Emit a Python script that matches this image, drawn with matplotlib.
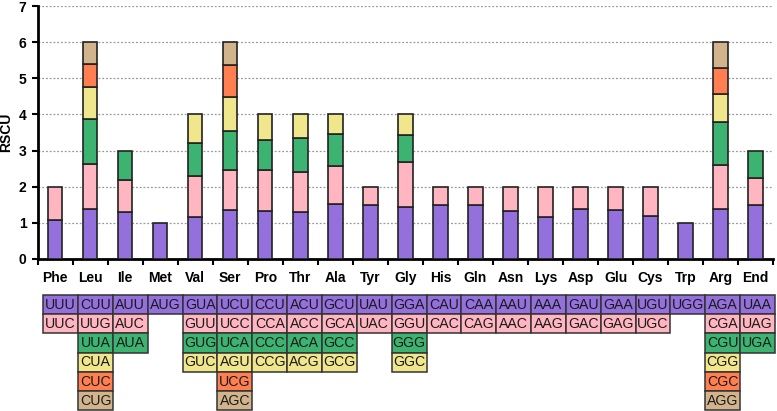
import matplotlib
matplotlib.use("Agg")
import matplotlib.pyplot as plt
from matplotlib.patches import Rectangle
from matplotlib.ticker import FixedLocator, MultipleLocator

amino_acids = ["Phe", "Leu", "Ile", "Met", "Val", "Ser", "Pro", "Thr", "Ala", "Tyr", "Gly",
               "His", "Gln", "Asn", "Lys", "Asp", "Glu", "Cys", "Trp", "Arg", "End"]

codons = [
    ["UUU", "UUC"],
    ["CUU", "UUG", "UUA", "CUA", "CUC", "CUG"],
    ["AUU", "AUC", "AUA"],
    ["AUG"],
    ["GUA", "GUU", "GUG", "GUC"],
    ["UCU", "UCC", "UCA", "AGU", "UCG", "AGC"],
    ["CCU", "CCA", "CCC", "CCG"],
    ["ACU", "ACC", "ACA", "ACG"],
    ["GCU", "GCA", "GCC", "GCG"],
    ["UAU", "UAC"],
    ["GGA", "GGU", "GGG", "GGC"],
    ["CAU", "CAC"],
    ["CAA", "CAG"],
    ["AAU", "AAC"],
    ["AAA", "AAG"],
    ["GAU", "GAC"],
    ["GAA", "GAG"],
    ["UGU", "UGC"],
    ["UGG"],
    ["AGA", "CGA", "CGU", "CGG", "CGC", "AGG"],
    ["UAA", "UAG", "UGA"],
]

rscu = [
    [1.08, 0.92],
    [1.37, 1.26, 1.25, 0.88, 0.65, 0.59],
    [1.31, 0.88, 0.81],
    [1.00],
    [1.15, 1.15, 0.91, 0.79],
    [1.35, 1.11, 1.08, 0.95, 0.87, 0.64],
    [1.33, 1.13, 0.82, 0.72],
    [1.31, 1.11, 0.94, 0.64],
    [1.52, 1.05, 0.88, 0.55],
    [1.50, 0.50],
    [1.45, 1.23, 0.74, 0.58],
    [1.49, 0.51],
    [1.49, 0.51],
    [1.33, 0.67],
    [1.15, 0.85],
    [1.38, 0.62],
    [1.35, 0.65],
    [1.19, 0.81],
    [1.00],
    [1.37, 1.22, 1.19, 0.80, 0.72, 0.70],
    [1.49, 0.76, 0.75],
]

colors = ["#9370DB", "#FFB6C1", "#3CB371", "#F0E68C", "#FF7F50", "#D2B48C"]

fig = plt.figure(figsize=(7.77, 4.11), dpi=100)
ax = fig.add_axes([0.0485, 0.370, 0.9465, 0.615])

n = len(amino_acids)
for i in range(n):
    bottom = 0.0
    for j, v in enumerate(rscu[i]):
        ax.bar(i, v, bottom=bottom, width=0.41, color=colors[j],
               edgecolor="#222222", linewidth=1.2, zorder=3)
        bottom += v

ax.set_xlim(-0.5, n - 0.5)
ax.set_ylim(0, 7)
ax.yaxis.set_major_locator(MultipleLocator(1))
ax.set_xticks(range(n))
ax.set_xticklabels(amino_acids, fontsize=10, fontweight="bold", family="Liberation Sans")
ax.tick_params(axis="x", which="major", length=0, pad=9)
ax.xaxis.set_minor_locator(FixedLocator([k - 0.5 for k in range(n + 1)]))
ax.tick_params(axis="x", which="minor", length=4, width=1.5, direction="out")
ax.tick_params(axis="y", length=4, width=1.5, direction="out", pad=4)
for lab in ax.get_yticklabels():
    lab.set_fontsize(10)
    lab.set_fontweight("bold")
    lab.set_family("Liberation Sans")
ax.set_ylabel("RSCU", fontsize=10, fontweight="bold", family="Liberation Sans", labelpad=4)
ax.grid(axis="y", linestyle=(0, (1.5, 1.5)), color="#999999", linewidth=0.9, zorder=0)
ax.spines["top"].set_visible(False)
ax.spines["right"].set_visible(False)
ax.spines["left"].set_linewidth(2)
ax.spines["bottom"].set_linewidth(2)

# codon table
tab = fig.add_axes([0.0557, 0.0024, 0.9417, 0.2798])
tab.set_xlim(0, n)
tab.set_ylim(6, 0)
tab.axis("off")
for i in range(n):
    for j, c in enumerate(codons[i]):
        tab.add_patch(Rectangle((i, j), 1, 1, facecolor=colors[j], edgecolor="#333333",
                                linewidth=1.1, clip_on=False))
        tab.text(i + 0.5, j + 0.52, c, ha="center", va="center", fontsize=10.2,
                 family="Liberation Sans", color="#1a1a1a")

fig.savefig("out.png", dpi=100)
